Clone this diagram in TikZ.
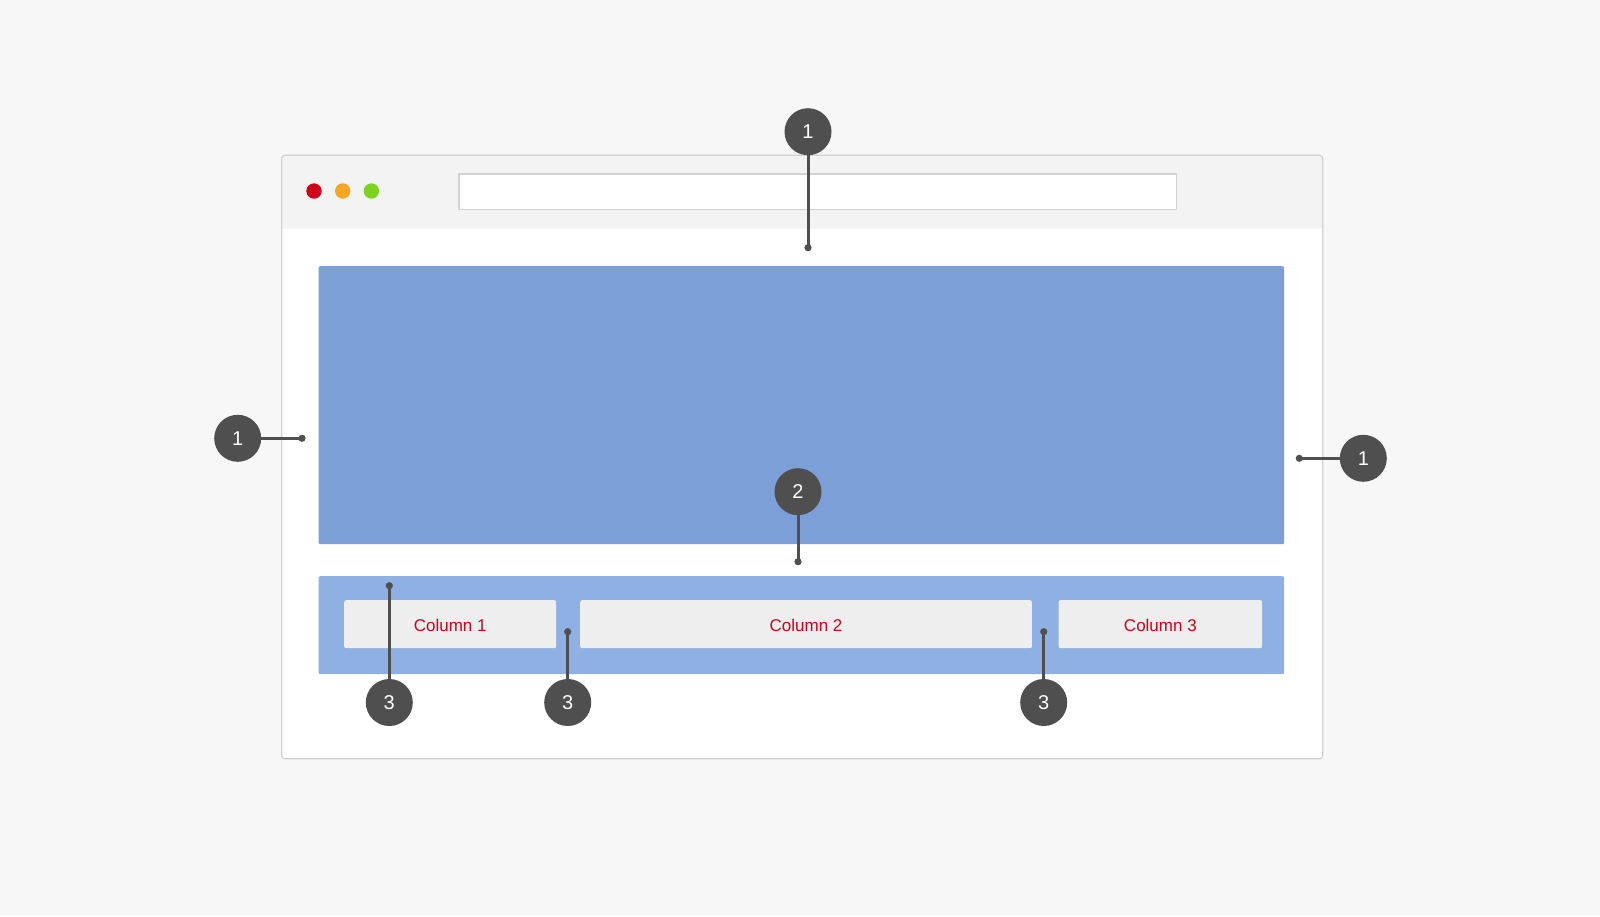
\documentclass[tikz,border=0pt]{standalone}
\usepackage{fontspec}
\setmainfont{Liberation Sans}
\usepackage{tikz}
\usetikzlibrary{positioning}
\definecolor{pagebg}{HTML}{F7F7F7}
\definecolor{winline}{HTML}{D2D2D2}
\definecolor{barfill}{HTML}{F3F3F3}
\definecolor{heroblue}{HTML}{7B9FD6}
\definecolor{footblue}{HTML}{8FB0E3}
\definecolor{colfill}{HTML}{EEEEEE}
\definecolor{labelred}{HTML}{D0021B}
\definecolor{dotorange}{HTML}{F5A623}
\definecolor{dotgreen}{HTML}{7ED321}
\definecolor{markgray}{HTML}{4F4F4F}
\tikzstyle{box} = [rectangle, anchor=north west, inner sep=0pt]
\tikzstyle{light} = [circle, minimum size=15.4pt, inner sep=0pt]
\tikzstyle{colbox} = [box, fill=colfill, rounded corners=2pt, minimum height=48pt, text height=15.5pt, text depth=0pt, text=labelred, font=\fontsize{17}{17}\selectfont]
\tikzstyle{callout} = [circle, fill=markgray, text=white, minimum size=47pt, inner sep=0pt, font=\fontsize{20}{20}\selectfont]
\tikzstyle{lead} = [draw=markgray, line width=3pt]

\begin{document}
\begin{tikzpicture}[x=1pt,y=-1pt]
	\useasboundingbox[fill=pagebg] (0,0) rectangle (1600,916);
	% browser window
	\node[box, fill=white, minimum width=1040.6pt, minimum height=603pt] (win) at (281.7,155.3) {};
	\fill[barfill, rounded corners=3pt] (win.south west) |- (win.north east) -- (1322.3,228.7) [sharp corners] -- (281.7,228.7) -- cycle;
	\fill[white] (281.7,228.7) rectangle (1322.3,755);
	\draw[winline, line width=1.2pt, rounded corners=3pt] (win.north west) rectangle (win.south east);
	\node[light, fill=labelred] (close) at (314,191) {};
	\node[light, fill=dotorange, right=12.9pt of close] (shrink) {};
	\node[light, fill=dotgreen, right=12.9pt of shrink] (grow) {};
	\node[box, fill=white, draw=winline, line width=1.2pt, minimum width=717.5pt, minimum height=35.7pt] (url) at (458.3,173.3) {};
	% page content
	\node[box, fill=heroblue, rounded corners=2pt, minimum width=965.7pt, minimum height=278pt] (hero) at (318.3,266) {};
	\node[box, fill=footblue, rounded corners=2pt, minimum width=965.7pt, minimum height=98pt] (foot) at (318.3,576) {};
	\node[colbox, minimum width=212pt] (col1) at (344,600) {Column 1};
	\node[colbox, minimum width=451.7pt] (col2) at (580,600) {Column 2};
	\node[colbox, minimum width=203.7pt] (col3) at (1058.3,600) {Column 3};
	% callouts
	\coordinate (p1) at (808,247.7);
	\coordinate (p2) at (302,438.3);
	\coordinate (p3) at (1299.3,458.3);
	\coordinate (p4) at (798,561.7);
	\coordinate (p5) at (389.3,585.7);
	\coordinate (p6) at (567.7,631.7);
	\coordinate (p7) at (1043.7,631.7);
	\node[callout] (c1) at (808,131.7) {1};
	\node[callout] (c2) at (237.7,438.3) {1};
	\node[callout] (c3) at (1363.3,458.3) {1};
	\node[callout] (c4) at (798,491.7) {2};
	\node[callout] (c5) at (389.3,702.5) {3};
	\node[callout] (c6) at (567.7,702.5) {3};
	\node[callout] (c7) at (1043.7,702.5) {3};
	\foreach \c/\p in {c1/p1,c2/p2,c3/p3,c4/p4,c5/p5,c6/p6,c7/p7}{
		\draw[lead] (\c) -- (\p);
		\fill[markgray] (\p) circle (3.6pt);
	}
\end{tikzpicture}
\end{document}
